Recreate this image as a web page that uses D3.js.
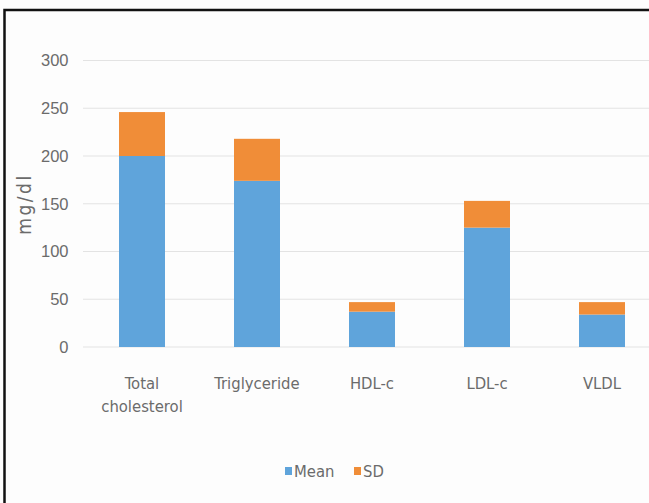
<!DOCTYPE html>
<html>
<head>
<meta charset="utf-8">
<script src="https://cdn.jsdelivr.net/npm/d3@7"></script>
<style>
  body { margin: 0; background: #fff; }
  svg { display: block; font-family: "DejaVu Sans Condensed", "DejaVu Sans", sans-serif; font-stretch: semi-condensed; }
</style>
</head>
<body>
<div id="chart"></div>
<script>
const categories = ["Total cholesterol", "Triglyceride", "HDL-c", "LDL-c", "VLDL"];
const meanValues = [200, 174, 37, 125, 34];
const sdValues = [46, 44, 10, 28, 13];
const yTicks = [0, 50, 100, 150, 200, 250, 300];
const seriesNames = ["Mean", "SD"];
const seriesColors = ["#5fa4db", "#f08d38"];

const W = 649, H = 503;
const plot = { left: 84.5, right: 659.5, top: 60.5, bottom: 347 };

const svg = d3.select("#chart").append("svg")
  .attr("width", W).attr("height", H);

svg.append("rect").attr("width", W).attr("height", H).attr("fill", "#fdfdfd");

// frame (only left and top edges are in view)
svg.append("path")
  .attr("d", `M4.5,${H + 5} V10 H${W + 5}`)
  .attr("fill", "none").attr("stroke", "#111").attr("stroke-width", 2.5);

const x = d3.scaleBand().domain(categories)
  .range([plot.left, plot.right]).paddingInner(0.6).paddingOuter(0.3);
const y = d3.scaleLinear().domain([0, 300]).range([plot.bottom, plot.top]);

// gridlines
svg.append("g").selectAll("line").data(yTicks).join("line")
  .attr("x1", 83).attr("x2", W)
  .attr("y1", d => y(d)).attr("y2", d => y(d))
  .attr("stroke", "#e3e3e3").attr("stroke-width", 1.2);

// y axis labels
const yAxis = svg.append("g")
  .attr("transform", `translate(${plot.left},0)`)
  .call(d3.axisLeft(y).tickValues(yTicks).tickSize(0).tickPadding(16));
yAxis.select(".domain").remove();
yAxis.selectAll("text").attr("fill", "#6b6b6b").style("font-size", "16.5px");

// stacked bars
const rows = categories.map((c, i) => ({ cat: c, Mean: meanValues[i], SD: sdValues[i] }));
const stacked = d3.stack().keys(seriesNames)(rows);
svg.append("g").selectAll("g").data(stacked).join("g")
  .attr("fill", (d, i) => seriesColors[i])
  .selectAll("rect").data(d => d).join("rect")
  .attr("x", d => x(d.data.cat))
  .attr("width", x.bandwidth())
  .attr("y", d => y(d[1]))
  .attr("height", d => y(d[0]) - y(d[1]));

// x labels
const xl = svg.append("g");
categories.forEach(c => {
  const words = c === "Total cholesterol" ? ["Total", "cholesterol"] : [c];
  const t = xl.append("text")
    .attr("x", x(c) + x.bandwidth() / 2)
    .attr("text-anchor", "middle")
    .attr("fill", "#6b6b6b").style("font-size", "16.5px");
  words.forEach((w, i) => {
    t.append("tspan").attr("x", x(c) + x.bandwidth() / 2)
      .attr("y", 389 + i * 23).text(w);
  });
});

// y title
svg.append("text")
  .attr("transform", "translate(31,204) rotate(-90)")
  .attr("text-anchor", "middle")
  .attr("fill", "#6b6b6b").style("font-size", "19px")
  .style("letter-spacing", "2.5px")
  .text("mg/dl");

// legend
const legendX = [285, 354];
const lg = svg.append("g");
seriesNames.forEach((s, i) => {
  lg.append("rect").attr("x", legendX[i]).attr("y", 467)
    .attr("width", 7).attr("height", 8).attr("fill", seriesColors[i]);
  lg.append("text").attr("x", legendX[i] + 9).attr("y", 477)
    .attr("fill", "#6b6b6b").style("font-size", "16.5px").text(s);
});
</script>
</body>
</html>
